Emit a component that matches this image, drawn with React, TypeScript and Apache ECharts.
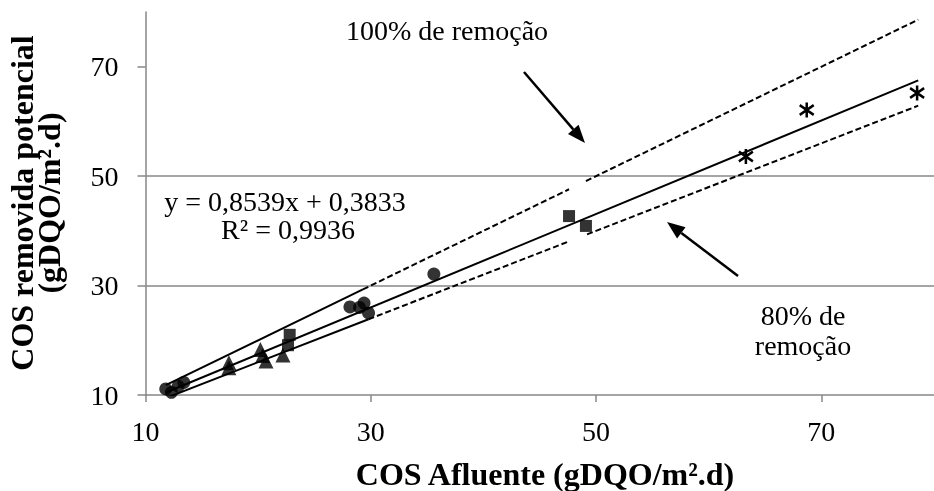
import React, { useEffect, useRef } from "react";
import * as echarts from "echarts";

// ---- data ----
const circles: number[][] = [
  [11.8, 11.1], [12.3, 10.5], [12.9, 11.6], [13.4, 12.3],
  [28.15, 26.1], [29.0, 26.0], [29.4, 26.8], [29.8, 25.0], [35.6, 32.1],
];
const triangles: number[][] = [
  [17.4, 15.0], [17.4, 15.9], [20.2, 18.3], [20.4, 17.2], [20.7, 16.2], [22.2, 17.3],
];
const squares: number[][] = [
  [22.65, 19.1], [22.8, 21.0], [47.6, 42.7], [49.1, 40.9],
];
const asterisks: number[][] = [
  [63.3, 53.6], [68.7, 62.1], [78.5, 65.2],
];
const regression: number[][] = [[11.8, 10.46], [78.6, 67.5]];
const line100Solid: number[][] = [[11.8, 11.8], [29.3, 29.3]];
const line100Dash1: number[][] = [[29.3, 29.3], [47.6, 47.6]];
const line100Dash2: number[][] = [[49.1, 49.1], [78.6, 78.6]];
const line80Solid: number[][] = [[11.8, 9.44], [29.8, 23.84]];
const line80Dash1: number[][] = [[29.8, 23.84], [47.6, 38.08]];
const line80Dash2: number[][] = [[49.2, 39.36], [78.6, 62.88]];
const xTicks = [10, 30, 50, 70];
const yTicks = [10, 30, 50, 70];

const FONT = "Liberation Serif";
const GRAY = "#878787";

function arrow(x1: number, y1: number, x2: number, y2: number) {
  const ang = Math.atan2(y2 - y1, x2 - x1);
  const L = 18, W = 7;
  const bx = x2 - L * Math.cos(ang), by = y2 - L * Math.sin(ang);
  const px = -Math.sin(ang) * W, py = Math.cos(ang) * W;
  return [
    { type: "line", z: 20, shape: { x1, y1, x2: bx, y2: by }, style: { stroke: "#000", lineWidth: 2.5 } },
    { type: "polygon", z: 20, shape: { points: [[x2, y2], [bx + px, by + py], [bx - px, by - py]] }, style: { fill: "#000" } },
  ];
}

export default function App() {
  const ref = useRef<HTMLDivElement>(null);
  useEffect(() => {
    document.body.style.margin = "0";
    const chart = echarts.init(ref.current!, null, { renderer: "svg" });
    const lineSeries = (data: number[][], dashed: boolean, w = 2) => ({
      type: "line", data, symbol: "none", silent: true,
      lineStyle: { color: "#000", width: w, type: dashed ? [6, 3] : "solid" },
      z: 3,
    });
    chart.setOption({
      animation: false,
      grid: { left: 145.5, top: 12, width: 800, height: 383 },
      xAxis: {
        type: "value", min: 10, max: 80, interval: 20,
        axisLine: { lineStyle: { color: GRAY, width: 1.5 } },
        axisTick: { customValues: xTicks, length: 7, lineStyle: { color: GRAY, width: 1.5 } },
        axisLabel: { customValues: xTicks, fontFamily: FONT, fontSize: 28, color: "#000", margin: 22 },
        splitLine: { show: false },
      },
      yAxis: {
        type: "value", min: 10, max: 80, interval: 20,
        axisLine: { show: true, lineStyle: { color: GRAY, width: 1.5 } },
        axisTick: { show: true, customValues: yTicks, length: 8, lineStyle: { color: GRAY, width: 1.5 } },
        axisLabel: { customValues: yTicks, fontFamily: FONT, fontSize: 28, color: "#000", margin: 27 },
        splitLine: { show: true, showMaxLine: false, showMinLine: false, lineStyle: { color: GRAY, width: 1.5 } },
      },
      series: [
        lineSeries(regression, false, 2),
        lineSeries(line100Solid, false, 2),
        lineSeries(line100Dash1, true, 2),
        lineSeries(line100Dash2, true, 2),
        lineSeries(line80Solid, false, 2),
        lineSeries(line80Dash1, true, 2),
        lineSeries(line80Dash2, true, 2),
        { type: "scatter", data: circles, symbol: "circle", symbolSize: 13, itemStyle: { color: "#000" }, z: 4 },
        { type: "scatter", data: triangles, symbol: "triangle", symbolSize: 15, itemStyle: { color: "#000" }, z: 4 },
        { type: "scatter", data: squares, symbol: "rect", symbolSize: 12, itemStyle: { color: "#000" }, z: 4 },
        {
          type: "scatter", data: asterisks,
          symbol: "path://M7,0 L7,14 M1,2.5 L13,11.5 M1,11.5 L13,2.5", symbolSize: [14, 15],
          itemStyle: { color: "none", borderColor: "#000", borderWidth: 2.6, opacity: 1 }, z: 4,
        },
      ],
      graphic: [
        { type: "rect", z: 10, shape: { x: 315, y: 0, width: 264, height: 76 }, style: { fill: "#fff" } },
        {
          type: "text", z: 21, x: 447, y: 30,
          style: { text: "100% de remoção", font: `28px '${FONT}'`, fill: "#000", align: "center", verticalAlign: "middle" },
        },
        ...arrow(524, 72, 585, 143),
        ...arrow(738, 276, 667, 222),
        {
          type: "text", z: 21, x: 803, y: 315,
          style: { text: "80% de", font: `28px '${FONT}'`, fill: "#000", align: "center", verticalAlign: "middle" },
        },
        {
          type: "text", z: 21, x: 803, y: 345,
          style: { text: "remoção", font: `28px '${FONT}'`, fill: "#000", align: "center", verticalAlign: "middle" },
        },
        {
          type: "text", z: 21, x: 285, y: 201,
          style: { text: "y = 0,8539x + 0,3833", font: `28px '${FONT}'`, fill: "#000", align: "center", verticalAlign: "middle" },
        },
        {
          type: "text", z: 21, x: 288, y: 229,
          style: { text: "R² = 0,9936", font: `28px '${FONT}'`, fill: "#000", align: "center", verticalAlign: "middle" },
        },
        {
          type: "text", z: 21, x: 545, y: 474,
          style: { text: "COS Afluente (gDQO/m².d)", font: `bold 32px '${FONT}'`, fill: "#000", align: "center", verticalAlign: "middle" },
        },
        {
          type: "text", z: 21, x: 35, y: 203, rotation: Math.PI / 2,
          style: { text: "COS removida potencial\n(gDQO/m².d)", font: `bold 32px '${FONT}'`, lineHeight: 27, fill: "#000", align: "center", verticalAlign: "middle" },
        },
      ],
    });
    return () => chart.dispose();
  }, []);
  return <div ref={ref} style={{ position: "fixed", left: 0, top: 0, width: 934, height: 491 }} />;
}
